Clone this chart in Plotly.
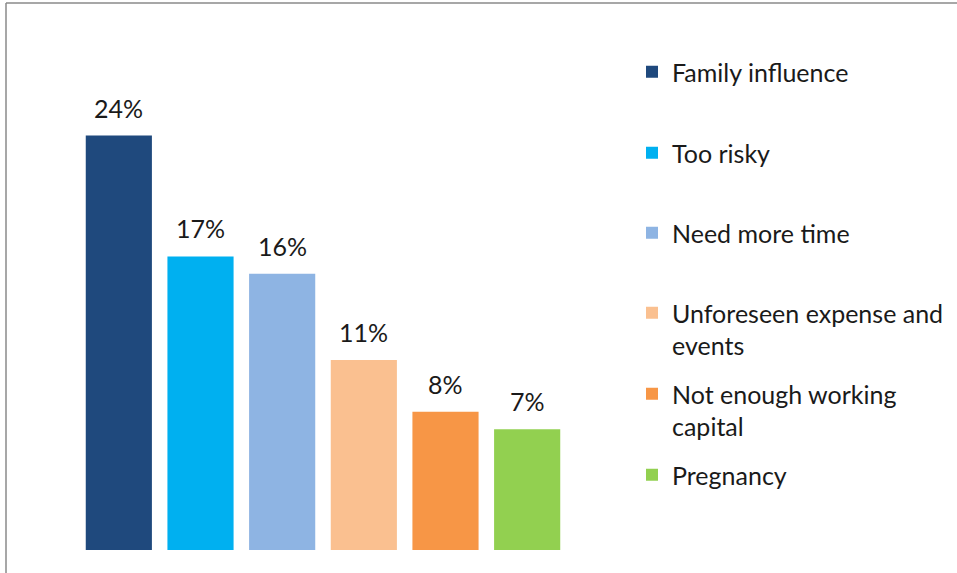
import plotly.graph_objects as go

# Reasons given, share of respondents (%)
categories = [
    "Family influence",
    "Too risky",
    "Need more time",
    "Unforeseen expense and events",
    "Not enough working capital",
    "Pregnancy",
]
legend_labels = [
    "Family influence",
    "Too risky",
    "Need more time",
    "Unforeseen expense and<br>events",
    "Not enough working<br>capital",
    "Pregnancy",
]
values = [24, 17, 16, 11, 8, 7]
colors = ["#1f497d", "#00b0f0", "#8eb4e3", "#fac090", "#f79646", "#92d050"]

W, H = 957, 573
FONT = "Lato"
FS = 25

# plot area in pixels
M_L, M_R, M_T, M_B = 78, 389, 32, 23
PW = W - M_L - M_R
PH = H - M_T - M_B


def px_x(px):
    return (px - M_L) / PW


def px_y(py):
    return (H - M_B - py) / PH


fig = go.Figure()
legend_tops = [49, 130, 210, 290, 371, 452]
layout_legends = {}
for i, (cat, lab, v, c) in enumerate(zip(categories, legend_labels, values, colors)):
    key = "legend" if i == 0 else f"legend{i + 1}"
    fig.add_trace(go.Bar(
        x=[cat], y=[v], name=lab, marker_color=c, marker_line_width=0,
        width=0.81, legend=key, hoverinfo="skip",
    ))
    layout_legends[key] = dict(
        x=632 / W, y=1 - legend_tops[i] / H, xref="container", yref="container",
        xanchor="left", yanchor="top", valign="top",
        font=dict(family=FONT, size=FS, color="#1a1a1a"),
        bgcolor="rgba(0,0,0,0)", borderwidth=0,
    )
    fig.add_annotation(
        x=cat, y=v, text=f"{v}%", showarrow=False, yanchor="middle", yshift=28,
        font=dict(family=FONT, size=FS, color="#1a1a1a"),
    )

# frame lines along the top and left edges
fig.add_shape(type="line", xref="paper", yref="paper",
              x0=px_x(6), x1=px_x(W), y0=px_y(3), y1=px_y(3),
              line=dict(color="#8a8a8a", width=1.5))
fig.add_shape(type="line", xref="paper", yref="paper",
              x0=px_x(6), x1=px_x(6), y0=px_y(3), y1=px_y(H),
              line=dict(color="#8a8a8a", width=1.5))

fig.update_layout(
    width=W, height=H,
    margin=dict(l=M_L, r=M_R, t=M_T, b=M_B, pad=0),
    paper_bgcolor="white", plot_bgcolor="white",
    barmode="overlay", showlegend=True,
    xaxis=dict(visible=False, categoryorder="array", categoryarray=categories,
               range=[-0.5, len(categories) - 0.5]),
    yaxis=dict(visible=False, range=[0, 30]),
    **layout_legends,
)

fig.write_html("out.html")
